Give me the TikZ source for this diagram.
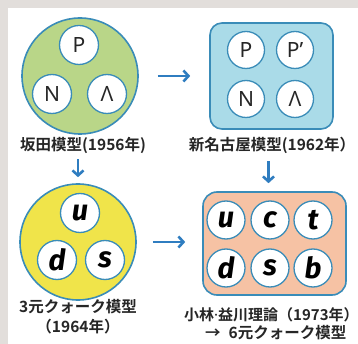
\documentclass[tikz,border=0pt]{standalone}
\usepackage{fontspec}
\setmainfont{Noto Sans}
\newfontfamily\jp{Noto Sans CJK JP Bold}
\newfontfamily\qk{Fira Sans Bold Italic}
\usetikzlibrary{arrows.meta}
\definecolor{bggray}{HTML}{E2DEDB}
\definecolor{edge}{HTML}{3A8CB8}
\definecolor{arrblue}{HTML}{2F7DC0}
\definecolor{gfill}{HTML}{B9D688}
\definecolor{bfill}{HTML}{AADBE8}
\definecolor{yfill}{HTML}{F0E44A}
\definecolor{ofill}{HTML}{F6C2A4}
\tikzset{
  arr/.style={draw=arrblue, line width=2.6pt, -{Straight Barb[length=5pt,width=11pt]}},
  big/.style={circle, draw=edge, line width=1.6pt, minimum size=116pt, inner sep=0pt},
  sm/.style={circle, draw=edge, fill=white, line width=1.3pt, minimum size=39pt, inner sep=0pt},
  had/.style={font=\fontsize{21}{21}\selectfont, text=black!85},
  qrk/.style={font=\qk\fontsize{29}{29}\selectfont},
  lab/.style={font=\jp\fontsize{15.5}{15.5}\selectfont, inner sep=0pt, text=black!85},
}
\begin{document}
\begin{tikzpicture}[x=1pt,y=-1pt]
\fill[bggray] (0,0) rectangle (358,344);
\fill[white] (8,8) rectangle (358,344);
\useasboundingbox (0,0) rectangle (358,344);
\clip (0,0) rectangle (358,344);
% Sakata
\node[big, fill=gfill] (g) at (80,76) {};
\node[sm, had] (gp) at (79,45) {P};
\node[sm, had] (gn) at (52,94) {N};
\node[sm, had] (gl) at (107,94) {Λ};
\node[lab] (a1) at (83,145) {坂田模型(1956年)};
% Nagoya
\node[draw=edge, fill=bfill, line width=1.6pt, rounded corners=12pt, minimum width=123pt, minimum height=106pt, inner sep=0pt] (b) at (271.5,76) {};
\node[sm, had, minimum size=37pt] (bp) at (246,50) {P};
\node[sm, had, minimum size=37pt] (bq) at (295,50) {P’};
\node[sm, had, minimum size=37pt] (bn) at (246,99) {N};
\node[sm, had, minimum size=37pt] (bl) at (295,99) {Λ};
\node[lab] (a2) at (272,145) {新名古屋模型(1962年）};
% 3 quark
\node[big, fill=yfill] (y) at (78,242) {};
\node[sm, qrk] (yu) at (80,213) {u};
\node[sm, qrk] (yd) at (57,260) {d};
\node[sm, qrk] (ys) at (105,260) {s};
\node[lab] (a3) at (78,307) {3元クォーク模型};
\node[lab] (a4) at (78,327) {（1964年）};
% 6 quark
\node[draw=edge, fill=ofill, line width=1.6pt, rounded corners=14pt, minimum width=143pt, minimum height=103pt, inner sep=0pt] (o) at (274.5,243.5) {};
\node[sm, qrk, minimum size=38pt] (ou) at (226,220) {u};
\node[sm, qrk, minimum size=38pt] (oc) at (270,220) {c};
\node[sm, qrk, minimum size=38pt] (ot) at (313,220) {t};
\node[sm, qrk, minimum size=38pt] (od) at (226,268) {d};
\node[sm, qrk, minimum size=38pt] (os) at (270,268) {s};
\node[sm, qrk, minimum size=38pt] (ob) at (313,268) {b};
\node[lab, anchor=west, font=\jp\fontsize{15}{15}\selectfont] (a5) at (184,315) {小林{\rmfamily\bfseries ·}益川理論（1973年）};
\node[lab, anchor=west] (a6) at (205,333) {→\hspace{8pt}6元クォーク模型};
% arrows
\draw[arr, shorten <=19pt, shorten >=19pt] (g.east) -- (b.west |- g.east);
\draw[arr, shorten <=6pt, shorten >=6pt] (y.north |- a1.south) -- (y.north);
\draw[arr, shorten <=16pt, shorten >=17pt] (y.east) -- (o.west |- y.east);
\draw[arr, shorten <=8pt, shorten >=8pt] ([xshift=-6pt]o.north |- a2.south) -- ([xshift=-6pt]o.north);
\end{tikzpicture}
\end{document}
